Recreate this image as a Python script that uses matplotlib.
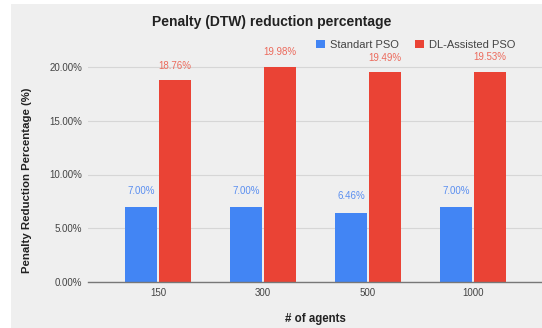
import matplotlib
matplotlib.use("Agg")
import matplotlib.pyplot as plt
from matplotlib.patches import Rectangle
import numpy as np

plt.rcParams["font.family"] = ["Liberation Sans", "DejaVu Sans"]

categories = ["150", "300", "500", "1000"]
standard_pso = [7.00, 7.00, 6.46, 7.00]
dl_pso = [18.76, 19.98, 19.49, 19.53]
yticks = [0, 5, 10, 15, 20]

BLUE = "#4285f4"
RED = "#ea4335"
BG = "#efefef"

fig = plt.figure(figsize=(5.42, 3.28), dpi=100)
fig.patch.set_facecolor("white")
fig.patches.append(Rectangle((11/542, 0), 1 - 11/542, 1 - 4/328, transform=fig.transFigure,
                             facecolor=BG, edgecolor="none", zorder=-10))

H = 328.0
y0 = 282.0
ppu = 10.75
top_val = 21.0
ax = fig.add_axes([88/542, 1 - y0/H, 1 - 88/542, (top_val*ppu)/H])
ax.set_facecolor(BG)
x = np.arange(len(categories))
w = 0.3
off = 0.16
b1 = ax.bar(x - off, standard_pso, w, color=BLUE, zorder=3, label="Standart PSO")
b2 = ax.bar(x + off, dl_pso, w, color=RED, zorder=3, label="DL-Assisted PSO")
for xi, v in zip(x, standard_pso):
    ax.annotate(f"{v:.2f}%", (xi - off, v), xytext=(0, 8), textcoords="offset points",
                ha="center", va="bottom", fontsize=7, color="#5b8ff0")
for xi, v in zip(x, dl_pso):
    ax.annotate(f"{v:.2f}%", (xi + off, v), xytext=(0, 7), textcoords="offset points",
                ha="center", va="bottom", fontsize=7, color="#ec6a5c")

ax.set_xlim(-0.667, 3.657)
ax.set_ylim(0, top_val)
ax.set_yticks(yticks)
ax.set_yticklabels([f"{t:.2f}%" for t in yticks], fontsize=7, color="#444444")
ax.set_xticks(x)
ax.set_xticklabels(categories, fontsize=7, color="#444444")
ax.tick_params(axis="y", length=0, pad=4)
ax.tick_params(axis="x", length=0, pad=4)
ax.grid(axis="y", color="#d6d6d6", linewidth=0.8, zorder=0)
for s in ["top", "right", "left"]:
    ax.spines[s].set_visible(False)
ax.spines["bottom"].set_color("#777777")
ax.spines["bottom"].set_linewidth(1.0)
ax.spines["bottom"].set_zorder(4)

fig.text(272/542, 1 - 22/H, "Penalty (DTW) reduction percentage", ha="center", va="center",
         fontsize=10, fontweight="bold", color="#222222")
fig.text(315/542, 1 - 319/H, "# of agents", ha="center", va="center",
         fontsize=8.3, fontweight="bold", color="#222222")
fig.text(27/542, 1 - 180/H, "Penalty Reduction Percentage (%)", ha="center", va="center",
         rotation=90, fontsize=8.2, fontweight="bold", color="#222222")

leg = fig.legend(handles=[b1, b2], loc="center right", bbox_to_anchor=(520/542, 1 - 45/H),
                 ncol=2, frameon=False, fontsize=8, handlelength=0.8, handleheight=0.8,
                 handletextpad=0.5, columnspacing=1.4, borderaxespad=0)
for t in leg.get_texts():
    t.set_color("#444444")

fig.savefig("out.png", dpi=100, facecolor=fig.get_facecolor())
